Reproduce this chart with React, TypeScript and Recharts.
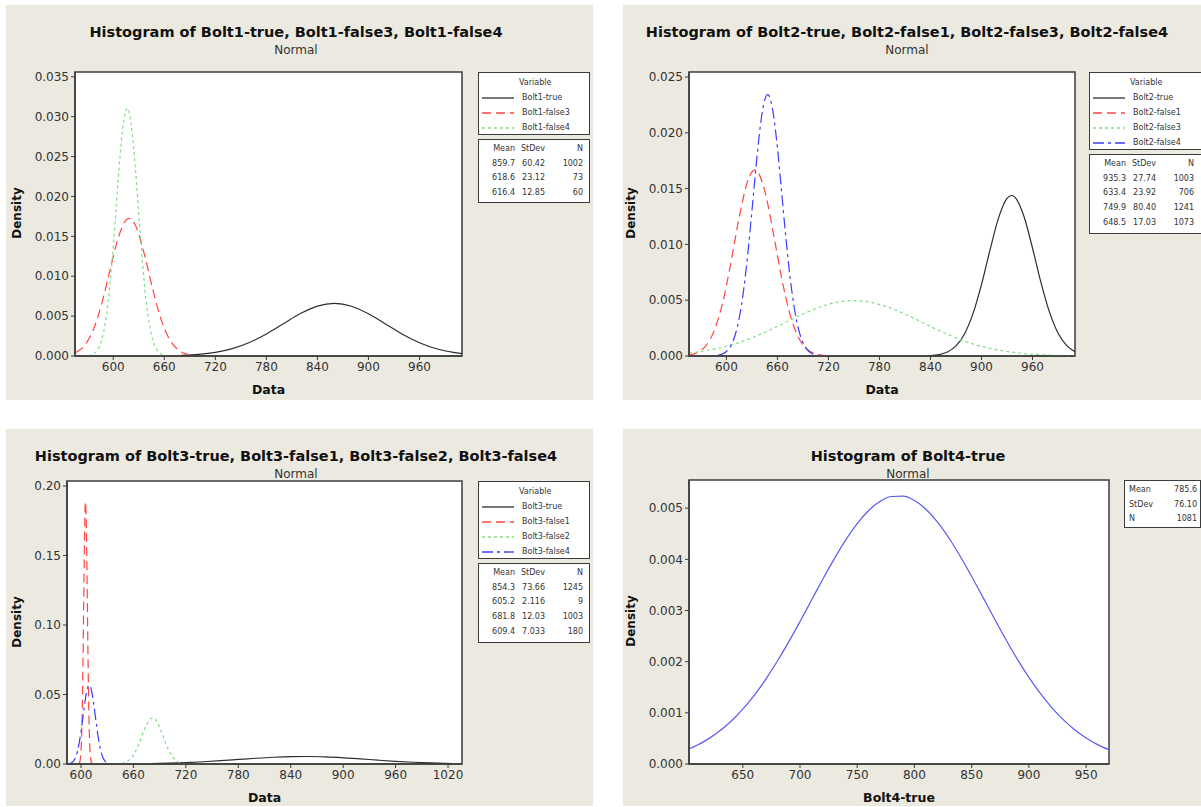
import React from "react";
import { LineChart, Line, XAxis, YAxis, ReferenceArea, CartesianGrid } from "recharts";

// Density values in each panel.
const bolt1TrueX = [680, 700, 720, 740, 760, 780, 800, 820, 840, 860, 880, 900, 920, 940, 960, 980, 1000, 1010];
const bolt1TrueY = [0.000079, 0.000201, 0.000456, 0.000928, 0.001692, 0.002767, 0.004054, 0.00532, 0.006261, 0.006603, 0.006241, 0.005286, 0.004013, 0.00273, 0.001665, 0.00091, 0.000446, 0.000299];
const bolt1False3X = [556, 566, 576, 586, 596, 606, 616, 618.6, 626, 636, 646, 656, 666, 676, 686, 696];
const bolt1False3Y = [0.000441, 0.001297, 0.003159, 0.006386, 0.010702, 0.014874, 0.017146, 0.017255, 0.016394, 0.013, 0.008552, 0.004661, 0.00211, 0.000791, 0.000246, 0.0000636];
const bolt1False4X = [571, 576, 581, 586, 591, 596, 601, 606, 611, 616.4, 621, 626, 631, 636, 641, 646, 651, 656, 661];
const bolt1False4Y = [0.0000605, 0.000222, 0.000698, 0.001891, 0.004399, 0.008805, 0.015141, 0.022372, 0.028423, 0.031046, 0.029118, 0.023486, 0.016281, 0.009702, 0.00497, 0.002184, 0.000827, 0.000269, 0.0000752];

const bolt2TrueX = [840, 850, 860, 870, 880, 890, 900, 910, 920, 930, 935.3, 940, 950, 960, 970, 980, 990, 1000, 1010];
const bolt2TrueY = [0.0000394, 0.000127, 0.000361, 0.0009, 0.001973, 0.003793, 0.006399, 0.009489, 0.012353, 0.014122, 0.014382, 0.014178, 0.012498, 0.009679, 0.006577, 0.003928, 0.002058, 0.000949, 0.000383];
const bolt2False1X = [556, 566, 576, 586, 596, 606, 616, 626, 633.4, 636, 646, 656, 666, 676, 686, 696, 706, 716];
const bolt2False1Y = [0.0000889, 0.000315, 0.000936, 0.00234, 0.00491, 0.008659, 0.0128, 0.015898, 0.016678, 0.01658, 0.014518, 0.010674, 0.006588, 0.003416, 0.001486, 0.000543, 0.000167, 0.000043];
const bolt2False3X = [556, 570, 590, 610, 630, 650, 670, 690, 710, 730, 750, 770, 790, 810, 830, 850, 870, 890, 910, 930, 950, 970, 990, 1010];
const bolt2False3Y = [0.000271, 0.000406, 0.000687, 0.001092, 0.001632, 0.002293, 0.003028, 0.00376, 0.004387, 0.004812, 0.004962, 0.004809, 0.004381, 0.003753, 0.003021, 0.002286, 0.001626, 0.001087, 0.000683, 0.000404, 0.000224, 0.000117, 0.0000574, 0.0000265];
const bolt2False4X = [590, 595, 600, 605, 610, 615, 620, 625, 630, 635, 640, 645, 648.5, 650, 655, 660, 665, 670, 675, 680, 685, 690, 695, 700, 705, 710];
const bolt2False4Y = [0.0000642, 0.000168, 0.000406, 0.000897, 0.001819, 0.003385, 0.005775, 0.00904, 0.012985, 0.017108, 0.020683, 0.022937, 0.023426, 0.023335, 0.021781, 0.01865, 0.014651, 0.010558, 0.006981, 0.004235, 0.002357, 0.001203, 0.000563, 0.000242, 0.0000954, 0.0000345];

const bolt3TrueX = [680, 700, 720, 740, 760, 780, 800, 820, 840, 860, 880, 900, 920, 940, 960, 980, 1000, 1025];
const bolt3TrueY = [0.000329, 0.000604, 0.001027, 0.001625, 0.002387, 0.003257, 0.004128, 0.004859, 0.005315, 0.0054, 0.005096, 0.004468, 0.003638, 0.002753, 0.001934, 0.001262, 0.000766, 0.00037];
const bolt3False1X = [597, 598, 599, 600, 601, 602, 603, 604, 605, 605.2, 606, 607, 608, 609, 610, 611, 612, 613];
const bolt3False1Y = [0.000104, 0.000577, 0.002578, 0.009203, 0.026301, 0.060088, 0.109806, 0.160542, 0.187692, 0.18854, 0.17553, 0.131299, 0.078565, 0.037595, 0.014386, 0.004404, 0.001079, 0.000211];
const bolt3False2X = [640, 645, 650, 655, 660, 665, 670, 675, 680, 681.8, 685, 690, 695, 700, 705, 710, 715, 720, 725];
const bolt3False2Y = [0.0000793, 0.000308, 0.001008, 0.002773, 0.00642, 0.012509, 0.020498, 0.028265, 0.032795, 0.033163, 0.032009, 0.026288, 0.018163, 0.010559, 0.005163, 0.002125, 0.000736, 0.000214, 0.0000525];
const bolt3False4X = [584, 586, 588, 590, 592, 594, 596, 598, 600, 602, 604, 606, 608, 609.4, 610, 612, 614, 616, 618, 620, 622, 624, 626, 628, 630, 632, 634];
const bolt3False4Y = [0.0000834, 0.000224, 0.000554, 0.001263, 0.002659, 0.005159, 0.009235, 0.015248, 0.023218, 0.032611, 0.042243, 0.050474, 0.055613, 0.056725, 0.056521, 0.052981, 0.0458, 0.036519, 0.026859, 0.01822, 0.011396, 0.006574, 0.0035, 0.001718, 0.000778, 0.000325, 0.000125];

const bolt4TrueX = [602, 610, 620, 630, 640, 650, 660, 670, 680, 690, 700, 710, 720, 730, 740, 750, 760, 770, 780, 790, 800, 810, 820, 830, 840, 850, 860, 870, 880, 890, 900, 910, 920, 930, 940, 950, 960, 970];
const bolt4TrueY = [0.000285, 0.000366, 0.000491, 0.000648, 0.000841, 0.001071, 0.001342, 0.001653, 0.002002, 0.002381, 0.002785, 0.0032, 0.003615, 0.004014, 0.004381, 0.004699, 0.004954, 0.005133, 0.005228, 0.005233, 0.005149, 0.004979, 0.004733, 0.004422, 0.00406, 0.003664, 0.003251, 0.002834, 0.002429, 0.002045, 0.001693, 0.001378, 0.001102, 0.000866, 0.000669, 0.000508, 0.000379, 0.000278];

// summary tables
const bolt1Names = ["Bolt1-true", "Bolt1-false3", "Bolt1-false4"];
const bolt1Mean = ["859.7", "618.6", "616.4"];
const bolt1StDev = ["60.42", "23.12", "12.85"];
const bolt1N = ["1002", "73", "60"];

const bolt2Names = ["Bolt2-true", "Bolt2-false1", "Bolt2-false3", "Bolt2-false4"];
const bolt2Mean = ["935.3", "633.4", "749.9", "648.5"];
const bolt2StDev = ["27.74", "23.92", "80.40", "17.03"];
const bolt2N = ["1003", "706", "1241", "1073"];

const bolt3Names = ["Bolt3-true", "Bolt3-false1", "Bolt3-false2", "Bolt3-false4"];
const bolt3Mean = ["854.3", "605.2", "681.8", "609.4"];
const bolt3StDev = ["73.66", "2.116", "12.03", "7.033"];
const bolt3N = ["1245", "9", "1003", "180"];

const bolt4Labels = ["Mean", "StDev", "N"];
const bolt4Values = ["785.6", "76.10", "1081"];

// axis ticks
const ticksX12 = [600, 660, 720, 780, 840, 900, 960];
const ticksY1 = [0, 0.005, 0.01, 0.015, 0.02, 0.025, 0.03, 0.035];
const ticksY2 = [0, 0.005, 0.01, 0.015, 0.02, 0.025];
const ticksX3 = [600, 660, 720, 780, 840, 900, 960, 1020];
const ticksY3 = [0, 0.05, 0.1, 0.15, 0.2];
const ticksX4 = [650, 700, 750, 800, 850, 900, 950];
const ticksY4 = [0, 0.001, 0.002, 0.003, 0.004, 0.005];

const BEIGE = "#ece9e0";
const FRAME = "#3c3c3c";
const FONT = "Tahoma, 'DejaVu Sans', sans-serif";

// 0 solid black, 1 red dashes, 2 green dots, 3 blue dash-dot, 4 plain blue (single fit)
const STYLES: { stroke: string; dash?: string }[] = [
  { stroke: "#2e2e2e" },
  { stroke: "#ff4545", dash: "9 5" },
  { stroke: "#85dc85", dash: "3 3" },
  { stroke: "#3c3cff", dash: "11 4 3 4" },
  { stroke: "#5a5af2" },
];

type Pt = { x: number; y: number };
const zip = (xs: number[], ys: number[]): Pt[] => xs.map((x, i) => ({ x, y: ys[i] }));

type Box = { x: number; y: number; w: number; h: number };
type Plot = { l: number; t: number; r: number; b: number };
type Series = { name: string; pts: Pt[]; style: number };

const YW = 50;
const XH = 40;

function Panel(props: {
  box: Box;
  plot: Plot;
  xDomain: [number, number];
  yDomain: [number, number];
  xTicks: number[];
  yTicks: number[];
  yDigits: number;
  title: string;
  titleCx: number;
  densityCx: number;
  xLabel: string;
  series: Series[];
  children?: React.ReactNode;
}) {
  const { box, plot, xDomain, yDomain } = props;
  const tick = { fontSize: 12, fill: "#333", fontFamily: FONT };
  return (
    <div
      style={{
        position: "absolute",
        left: box.x,
        top: box.y,
        width: box.w,
        height: box.h,
        background: BEIGE,
        overflow: "hidden",
        fontFamily: FONT,
      }}
    >
      <div
        style={{
          position: "absolute",
          left: props.titleCx - box.x - 300,
          width: 600,
          top: 19,
          textAlign: "center",
          fontWeight: "bold",
          fontSize: 14.5,
          color: "#111",
        }}
      >
        {props.title}
      </div>
      <div
        style={{
          position: "absolute",
          left: props.titleCx - box.x - 100,
          width: 200,
          top: 38,
          textAlign: "center",
          fontSize: 12,
          color: "#333",
        }}
      >
        Normal
      </div>
      <div
        style={{
          position: "absolute",
          left: props.densityCx - box.x - 40,
          top: (plot.t + plot.b) / 2 - box.y - 8,
          width: 80,
          textAlign: "center",
          transform: "rotate(-90deg)",
          fontWeight: "bold",
          fontSize: 12,
          color: "#111",
        }}
      >
        Density
      </div>
      <LineChart
        width={box.w}
        height={box.h}
        style={{ position: "absolute", left: 0, top: 0 }}
        margin={{
          top: plot.t - box.y,
          right: box.x + box.w - plot.r,
          bottom: box.y + box.h - plot.b - XH,
          left: plot.l - box.x - YW,
        }}
      >
        <CartesianGrid fill="#fff" horizontal={false} vertical={false} />
        <XAxis
          type="number"
          dataKey="x"
          domain={xDomain}
          ticks={props.xTicks}
          allowDataOverflow
          height={XH}
          tickSize={4}
          tick={tick}
          axisLine={{ stroke: FRAME, strokeWidth: 1.5 }}
          tickLine={{ stroke: FRAME }}
          label={{
            value: props.xLabel,
            position: "insideBottom",
            offset: 2,
            style: { fontWeight: "bold", fontSize: 12.5, fill: "#111", fontFamily: FONT },
          }}
        />
        <YAxis
          type="number"
          domain={yDomain}
          ticks={props.yTicks}
          allowDataOverflow
          width={YW}
          tickSize={4}
          tick={tick}
          tickFormatter={(v: number) => v.toFixed(props.yDigits)}
          axisLine={{ stroke: FRAME, strokeWidth: 1.5 }}
          tickLine={{ stroke: FRAME }}
        />
        <ReferenceArea
          x1={xDomain[0]}
          x2={xDomain[1]}
          y1={yDomain[0]}
          y2={yDomain[1]}
          fill="none"
          stroke={FRAME}
          strokeWidth={1.5}
        />
        {props.series.map((s) => (
          <Line
            key={s.name}
            data={s.pts}
            dataKey="y"
            name={s.name}
            type="monotone"
            dot={false}
            activeDot={false}
            stroke={STYLES[s.style].stroke}
            strokeDasharray={STYLES[s.style].dash}
            strokeWidth={1.2}
            isAnimationActive={false}
          />
        ))}
      </LineChart>
      {props.children}
    </div>
  );
}

const boxStyle = (left: number, top: number, width: number, height: number): React.CSSProperties => ({
  position: "absolute",
  left,
  top,
  width,
  height,
  background: "#fff",
  border: `1.5px solid ${FRAME}`,
  boxSizing: "border-box",
  fontSize: 8,
  color: "#333",
});

function VarLegend(props: { left: number; top: number; height: number; width?: number; names: string[] }) {
  return (
    <div style={boxStyle(props.left, props.top, props.width ?? 112, props.height)}>
      <div style={{ position: "absolute", left: 40, top: 5 }}>Variable</div>
      {props.names.map((n, i) => (
        <div key={n} style={{ position: "absolute", left: 3, top: 20 + i * 15, display: "flex", alignItems: "center" }}>
          <svg width={32} height={6} style={{ marginRight: 8 }}>
            <line x1={0} y1={3} x2={32} y2={3} stroke={STYLES[i].stroke} strokeDasharray={STYLES[i].dash} strokeWidth={1.3} />
          </svg>
          <span>{n}</span>
        </div>
      ))}
    </div>
  );
}

function StatsTable(props: { left: number; top: number; height: number; width?: number; mean: string[]; sd: string[]; n: string[] }) {
  const rows = [["Mean", "StDev", "N"], ...props.mean.map((m, i) => [m, props.sd[i], props.n[i]])];
  return (
    <div style={boxStyle(props.left, props.top, props.width ?? 112, props.height)}>
      {rows.map((r, i) => (
        <div key={i} style={{ position: "absolute", top: 4 + i * 14.7, left: 0, width: 112, height: 12 }}>
          <span style={{ position: "absolute", right: 112 - 36 }}>{r[0]}</span>
          <span style={{ position: "absolute", right: 112 - 66 }}>{r[1]}</span>
          <span style={{ position: "absolute", right: 112 - 104 }}>{r[2]}</span>
        </div>
      ))}
    </div>
  );
}

export default function App() {
  return (
    <div style={{ position: "absolute", left: 0, top: 0, width: 1201, height: 807, background: "#fff", overflow: "hidden" }}>
      <Panel
        box={{ x: 6, y: 5, w: 587, h: 395 }}
        plot={{ l: 75, t: 72, r: 462, b: 356 }}
        xDomain={[555, 1010]}
        yDomain={[0, 0.0356]}
        xTicks={ticksX12}
        yTicks={ticksY1}
        yDigits={3}
        title="Histogram of Bolt1-true, Bolt1-false3, Bolt1-false4"
        titleCx={296}
        densityCx={17}
        xLabel="Data"
        series={[
          { name: bolt1Names[0], pts: zip(bolt1TrueX, bolt1TrueY), style: 0 },
          { name: bolt1Names[1], pts: zip(bolt1False3X, bolt1False3Y), style: 1 },
          { name: bolt1Names[2], pts: zip(bolt1False4X, bolt1False4Y), style: 2 },
        ]}
      >
        <VarLegend left={472} top={67} height={63} names={bolt1Names} />
        <StatsTable left={472} top={134} height={64} mean={bolt1Mean} sd={bolt1StDev} n={bolt1N} />
      </Panel>
      <Panel
        box={{ x: 623, y: 5, w: 578, h: 395 }}
        plot={{ l: 689, t: 72, r: 1075, b: 356 }}
        xDomain={[556, 1010]}
        yDomain={[0, 0.02545]}
        xTicks={ticksX12}
        yTicks={ticksY2}
        yDigits={3}
        title="Histogram of Bolt2-true, Bolt2-false1, Bolt2-false3, Bolt2-false4"
        titleCx={907}
        densityCx={631}
        xLabel="Data"
        series={[
          { name: bolt2Names[0], pts: zip(bolt2TrueX, bolt2TrueY), style: 0 },
          { name: bolt2Names[1], pts: zip(bolt2False1X, bolt2False1Y), style: 1 },
          { name: bolt2Names[2], pts: zip(bolt2False3X, bolt2False3Y), style: 2 },
          { name: bolt2Names[3], pts: zip(bolt2False4X, bolt2False4Y), style: 3 },
        ]}
      >
        <VarLegend left={466} top={67} height={78} width={120} names={bolt2Names} />
        <StatsTable left={466} top={149} height={80} width={120} mean={bolt2Mean} sd={bolt2StDev} n={bolt2N} />
      </Panel>
      <Panel
        box={{ x: 6, y: 429, w: 587, h: 377 }}
        plot={{ l: 67, t: 481, r: 462, b: 764 }}
        xDomain={[584, 1036]}
        yDomain={[0, 0.2036]}
        xTicks={ticksX3}
        yTicks={ticksY3}
        yDigits={2}
        title="Histogram of Bolt3-true, Bolt3-false1, Bolt3-false2, Bolt3-false4"
        titleCx={296}
        densityCx={17}
        xLabel="Data"
        series={[
          { name: bolt3Names[0], pts: zip(bolt3TrueX, bolt3TrueY), style: 0 },
          { name: bolt3Names[1], pts: zip(bolt3False1X, bolt3False1Y), style: 1 },
          { name: bolt3Names[2], pts: zip(bolt3False2X, bolt3False2Y), style: 2 },
          { name: bolt3Names[3], pts: zip(bolt3False4X, bolt3False4Y), style: 3 },
        ]}
      >
        <VarLegend left={472} top={52} height={78} names={bolt3Names} />
        <StatsTable left={472} top={134} height={80} mean={bolt3Mean} sd={bolt3StDev} n={bolt3N} />
      </Panel>
      <Panel
        box={{ x: 623, y: 429, w: 578, h: 377 }}
        plot={{ l: 689, t: 480, r: 1109, b: 764 }}
        xDomain={[603, 970]}
        yDomain={[0, 0.00555]}
        xTicks={ticksX4}
        yTicks={ticksY4}
        yDigits={3}
        title="Histogram of Bolt4-true"
        titleCx={908}
        densityCx={631}
        xLabel="Bolt4-true"
        series={[{ name: "Bolt4-true", pts: zip(bolt4TrueX, bolt4TrueY), style: 4 }]}
      >
        <div style={boxStyle(501, 51, 77, 48)}>
          {bolt4Labels.map((l, i) => (
            <div key={l} style={{ position: "absolute", top: 4 + i * 14.7, left: 4, width: 68 }}>
              <span>{l}</span>
              <span style={{ position: "absolute", right: 0 }}>{bolt4Values[i]}</span>
            </div>
          ))}
        </div>
      </Panel>
    </div>
  );
}
